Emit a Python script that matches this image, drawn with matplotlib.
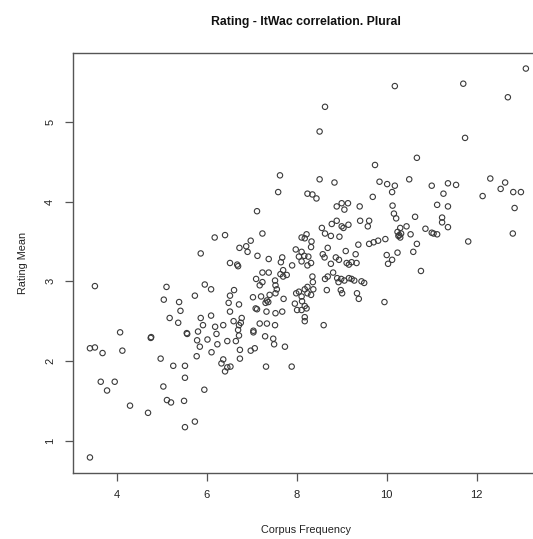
import matplotlib
matplotlib.use("Agg")
import matplotlib.pyplot as plt
import numpy as np

plt.rcParams['font.family'] = ['Liberation Sans', 'DejaVu Sans']

# Corpus frequency (log) and mean rating for each plural form
corpus_freq = [
    8.63, 8.51, 9.74, 7.63, 8.51, 8.84, 7.59, 8.24, 8.35, 9.84,
    13.09, 10.18, 11.70, 12.69, 11.74, 10.67,
    10.01, 10.18, 10.50, 11.00, 11.36, 11.54, 12.30, 12.63, 12.53, 12.81, 12.98, 10.12, 11.26, 12.13,
    10.13, 11.12, 11.36, 12.84, 10.16, 10.21, 10.63, 11.23, 11.23, 11.36, 10.44, 10.30,
    10.24, 10.28, 10.32, 10.30, 10.26,
    9.81, 9.97, 10.53, 10.86, 11.00, 11.04, 11.12, 10.67, 11.81, 12.80, 10.24, 10.59, 10.00, 10.12, 10.03, 10.76, 9.95,
    8.44, 9.69, 7.12, 8.89, 9.00, 9.14, 9.06, 9.40,
    8.89, 8.78, 9.00, 9.04, 9.15, 8.95, 9.41, 9.61, 9.58, 8.56, 8.63, 8.76,
    7.24, 6.41, 8.22, 8.11, 8.33, 8.32, 8.18,
    6.98, 6.88, 6.73, 6.91, 7.13, 7.38, 7.68, 7.65,
    7.98, 8.11, 8.05, 8.17, 8.26, 8.32, 8.11, 8.24, 7.90,
    8.58, 8.62, 8.69, 8.87, 8.94, 9.09, 9.31, 9.37, 9.61, 9.71,
    9.11, 9.16, 9.22, 9.33,
    8.76, 8.81, 8.69, 8.63,
    8.90, 8.99, 9.06, 8.93, 9.16, 9.22, 9.28, 9.44, 9.50,
    8.98, 9.01, 9.34, 9.38, 8.67,
    8.35, 8.36, 8.24, 8.18, 8.37, 8.24, 8.32, 8.05, 7.99, 8.11, 8.12, 8.18, 8.22, 8.11, 7.96, 8.01, 8.18, 8.18, 8.60,
    7.70, 7.78, 7.70, 7.64, 7.52, 7.53, 7.56, 7.53, 7.38, 7.24, 7.10, 7.24, 7.18, 7.34, 7.31, 7.37, 7.12, 7.09,
    7.33, 7.53, 7.68, 7.71, 7.40, 7.21, 7.03, 6.61, 6.52, 6.49, 6.52, 6.72, 6.60, 6.78, 6.76, 6.72,
    6.70, 7.04, 7.18, 7.34, 7.52,
    5.87, 6.52, 6.68, 6.70,
    5.11, 5.05, 5.39, 5.42, 5.74, 5.96, 6.10, 5.18, 5.37, 5.56, 5.57, 4.76, 4.77, 4.98, 5.26, 5.52, 5.52,
    5.87, 6.10, 5.92, 6.19, 6.37,
    5.81, 5.79, 5.85, 6.02, 6.22, 6.24, 6.11, 5.78, 6.37, 6.33, 6.46, 6.53, 6.41,
    6.46, 6.65, 6.72, 6.74, 6.74, 6.98, 7.07,
    7.04, 7.30, 7.48, 7.50, 7.74, 7.32, 7.89,
    6.18, 3.52, 4.08,
    3.41, 3.52, 3.69, 4.13, 3.65, 3.79, 3.96, 4.30, 4.70, 5.04, 5.12, 5.21, 5.50, 5.74, 5.52, 5.95, 3.41,
]

rating_mean = [
    5.19, 4.88, 4.46, 4.33, 4.28, 4.24, 4.12, 4.10, 4.09, 4.25,
    5.67, 5.45, 5.48, 5.31, 4.80, 4.55,
    4.22, 4.20, 4.28, 4.20, 4.23, 4.21, 4.29, 4.24, 4.16, 4.12, 4.12, 4.12, 4.10, 4.07,
    3.95, 3.96, 3.94, 3.92, 3.85, 3.79, 3.81, 3.80, 3.74, 3.68, 3.69, 3.67,
    3.62, 3.58, 3.60, 3.55, 3.57,
    3.51, 3.53, 3.59, 3.66, 3.61, 3.60, 3.59, 3.47, 3.50, 3.60, 3.36, 3.37, 3.33, 3.27, 3.22, 3.13, 2.74,
    4.04, 4.06, 3.88, 3.94, 3.98, 3.98, 3.90, 3.94,
    3.76, 3.72, 3.69, 3.67, 3.71, 3.56, 3.76, 3.76, 3.69, 3.67, 3.60, 3.57,
    3.60, 3.58, 3.59, 3.55, 3.50, 3.43, 3.54,
    3.51, 3.44, 3.42, 3.37, 3.32, 3.28, 3.30, 3.24,
    3.40, 3.37, 3.31, 3.32, 3.31, 3.23, 3.25, 3.20, 3.20,
    3.34, 3.30, 3.42, 3.30, 3.27, 3.38, 3.34, 3.46, 3.47, 3.49,
    3.23, 3.21, 3.24, 3.23,
    3.22, 3.11, 3.06, 3.03,
    3.04, 3.03, 3.01, 2.99, 3.04, 3.03, 3.01, 3.00, 2.98,
    2.89, 2.85, 2.85, 2.78, 2.89,
    3.06, 2.99, 2.93, 2.90, 2.90, 2.85, 2.83, 2.87, 2.85, 2.81, 2.75, 2.69, 2.66, 2.64, 2.72, 2.64, 2.55, 2.50, 2.45,
    3.14, 3.08, 3.06, 3.09, 3.01, 2.95, 2.90, 2.85, 3.11, 3.11, 3.03, 2.99, 2.95, 2.76, 2.73, 2.74, 2.65, 2.66,
    2.62, 2.60, 2.62, 2.78, 2.83, 2.81, 2.80, 2.89, 2.82, 2.73, 2.62, 2.71, 2.50, 2.54, 2.48, 2.45,
    2.39, 2.38, 2.47, 2.47, 2.45,
    3.35, 3.23, 3.21, 3.19,
    2.93, 2.77, 2.74, 2.63, 2.82, 2.96, 2.90, 2.54, 2.48, 2.35, 2.34, 2.29, 2.30, 2.03, 1.94, 1.94, 1.79,
    2.54, 2.57, 2.45, 2.43, 2.45,
    2.37, 2.26, 2.18, 2.27, 2.34, 2.21, 2.11, 2.06, 2.02, 1.97, 1.92, 1.93, 1.87,
    2.25, 2.25, 2.32, 2.14, 2.03, 2.13, 2.16,
    2.36, 2.31, 2.28, 2.21, 2.18, 1.93, 1.93,
    3.55, 2.94, 2.36,
    2.16, 2.17, 2.10, 2.13, 1.74, 1.63, 1.74, 1.44, 1.35, 1.68, 1.51, 1.48, 1.50, 1.24, 1.17, 1.64, 0.79,
]

x_ticks = [4, 6, 8, 10, 12]
y_ticks = [1, 2, 3, 4, 5]

W, H = 533, 539
fig = plt.figure(figsize=(W / 100, H / 100), dpi=100)
# plot region in pixels: left 72.5, right 543 (runs past the image edge), top 53, bottom 473
ax = fig.add_axes([72.5 / W, 1 - 473 / H, (543.3 - 72.5) / W, (473 - 53) / H])

x = np.asarray(corpus_freq)
y = np.asarray(rating_mean)
ax.scatter(x, y, s=15, facecolors='none', edgecolors='#3a3a3a', linewidths=0.8)

# R-style 4% padding around the data range
xr = x.max() - x.min()
yr = y.max() - y.min()
ax.set_xlim(x.min() - 0.04 * xr, x.max() + 0.04 * xr)
ax.set_ylim(y.min() - 0.04 * yr, y.max() + 0.04 * yr)

for sp in ax.spines.values():
    sp.set_color('#555555')
    sp.set_linewidth(1.0)

ax.set_xticks(x_ticks)
ax.set_yticks(y_ticks)
ax.set_xticklabels([str(v) for v in x_ticks])
ax.set_yticklabels([str(v) for v in y_ticks], rotation=90, va='center')
ax.tick_params(axis='both', direction='out', length=5.5, width=0.9, color='#555555',
               labelsize=8, labelcolor='#222222', pad=7)

fig.text(306 / W, 1 - 22 / H, 'Rating - ItWac correlation. Plural', ha='center', va='center',
         fontsize=8.8, fontweight='bold', color='#111111')
fig.text(306 / W, 1 - 530 / H, 'Corpus Frequency', ha='center', va='center',
         fontsize=7.8, color='#222222')
fig.text(23 / W, 1 - 263 / H, 'Rating Mean', ha='center', va='center', rotation=90,
         fontsize=7.8, color='#222222')

fig.savefig('out.png', dpi=100)
